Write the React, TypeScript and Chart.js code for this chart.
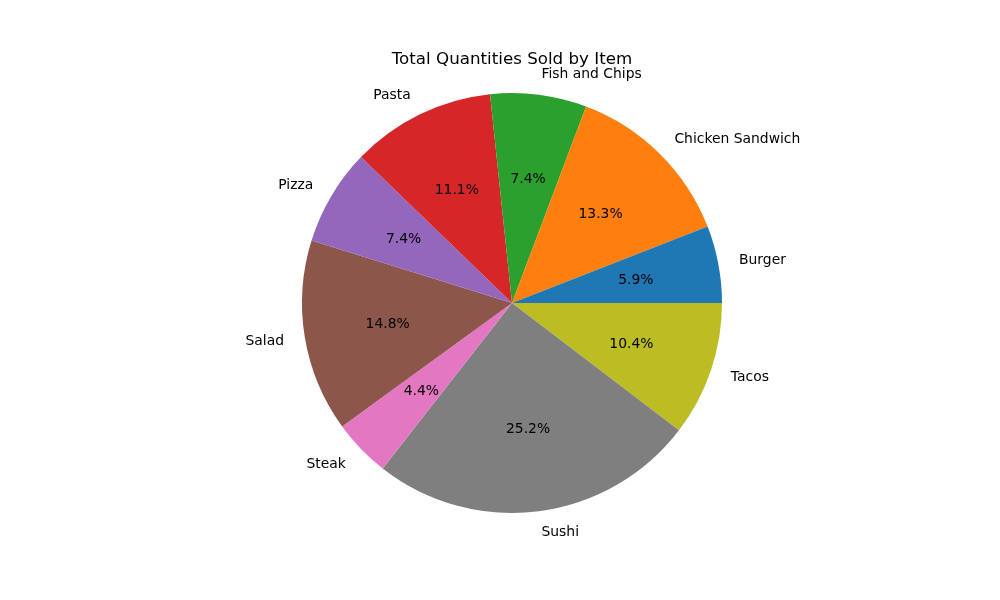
import React, { useEffect, useRef } from "react";
import { Chart, registerables } from "chart.js";

Chart.register(...registerables);

const items = ["Burger", "Chicken Sandwich", "Fish and Chips", "Pasta", "Pizza", "Salad", "Steak", "Sushi", "Tacos"];
const quantities = [8, 18, 10, 15, 10, 20, 6, 34, 14];
const colors = ["#1f77b4", "#ff7f0e", "#2ca02c", "#d62728", "#9467bd", "#8c564b", "#e377c2", "#7f7f7f", "#bcbd22"];
const title = "Total Quantities Sold by Item";

// matplotlib draws counter-clockwise from 3 o'clock; Chart.js goes clockwise, so reverse
const revItems = [...items].reverse();
const revQty = [...quantities].reverse();
const revColors = [...colors].reverse();

const FONT = '"DejaVu Sans", sans-serif';

const labelPlugin = {
  id: "mplLabels",
  afterDraw(chart: any) {
    const ctx = chart.ctx;
    const meta = chart.getDatasetMeta(0);
    const total = revQty.reduce((a, b) => a + b, 0);
    ctx.save();
    ctx.fillStyle = "#000";
    ctx.textBaseline = "middle";
    meta.data.forEach((arc: any, i: number) => {
      const mid = (arc.startAngle + arc.endAngle) / 2;
      const r = arc.outerRadius;
      const cx = arc.x;
      const cy = arc.y;
      ctx.font = `13.9px ${FONT}`;
      const lx = cx + Math.cos(mid) * r * 1.1;
      const ly = cy + Math.sin(mid) * r * 1.1;
      ctx.textAlign = Math.cos(mid) * r * 1.1 > 0 ? "left" : "right";
      ctx.fillText(revItems[i], lx, ly + 0.5);
      const px = cx + Math.cos(mid) * r * 0.6;
      const py = cy + Math.sin(mid) * r * 0.6;
      ctx.textAlign = "center";
      ctx.fillText(((revQty[i] / total) * 100).toFixed(1) + "%", px, py + 1);
    });
    ctx.font = `16.7px ${FONT}`;
    ctx.textAlign = "center";
    ctx.fillText(title, 512, 59.5);
    ctx.restore();
  },
};

export default function App() {
  const ref = useRef<HTMLCanvasElement>(null);
  useEffect(() => {
    document.body.style.margin = "0";
    const chart = new Chart(ref.current!, {
      type: "pie",
      data: {
        labels: revItems,
        datasets: [
          {
            data: revQty,
            backgroundColor: revColors,
            borderWidth: 0,
          },
        ],
      },
      options: {
        animation: false,
        responsive: false,
        rotation: 90,
        layout: { padding: { top: 93, bottom: 87, left: 302, right: 278 } },
        plugins: {
          legend: { display: false },
          tooltip: { enabled: false },
          title: { display: false },
        },
      },
      plugins: [labelPlugin],
    });
    return () => chart.destroy();
  }, []);
  return (
    <div style={{ width: 1000, height: 600, background: "#fff" }}>
      <canvas ref={ref} width={1000} height={600} style={{ display: "block" }} />
    </div>
  );
}
